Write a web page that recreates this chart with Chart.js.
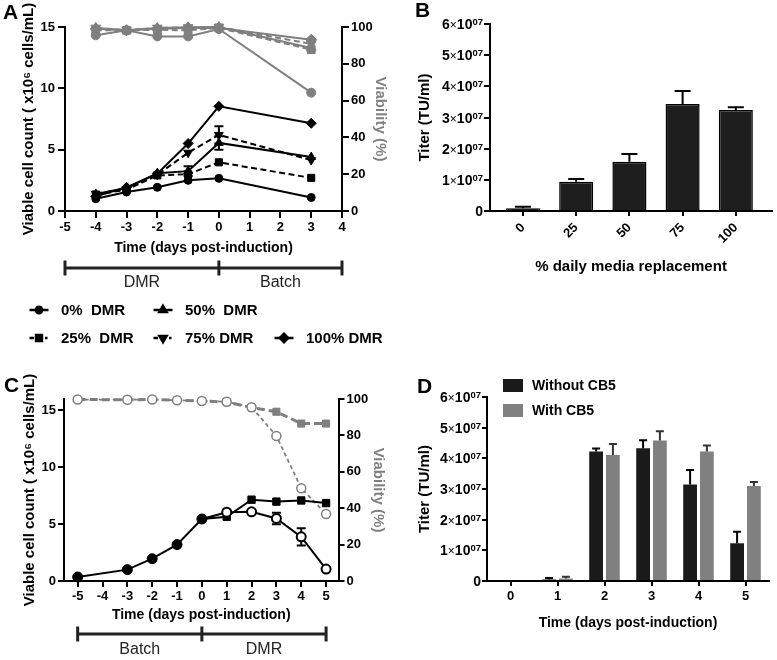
<!DOCTYPE html>
<html>
<head>
<meta charset="utf-8">
<title>Cell growth, viability and titer</title>
<script src="https://cdn.jsdelivr.net/npm/chart.js@4.4.1/dist/chart.umd.min.js"></script>
<style>
  html, body { margin: 0; padding: 0; background: #fff; }
  #page { position: relative; width: 777px; height: 660px; overflow: hidden; }
  #page canvas { position: absolute; }
</style>
</head>
<body>
<div id="page">
  <canvas id="cA" width="400" height="350" style="left:0;top:0"></canvas>
  <canvas id="cB" width="377" height="300" style="left:400px;top:0"></canvas>
  <canvas id="cC" width="400" height="310" style="left:0;top:350px"></canvas>
  <canvas id="cD" width="377" height="310" style="left:400px;top:350px"></canvas>
</div>
<script>
// ---- data: panel A (DMR then batch) ----
const daysA = [-4, -3, -2, -1, 0, 3];
const dayTicksA = [-5, -4, -3, -2, -1, 0, 1, 2, 3, 4];
const countTicksA = [0, 5, 10, 15];
const viabTicks = [0, 20, 40, 60, 80, 100];
const countA0 = [1.0, 1.55, 1.93, 2.5, 2.66, 1.1];
const countA25 = [1.33, 1.74, 2.9, 3.0, 3.97, 2.7];
const countA50 = [1.39, 1.87, 3.07, 3.25, 5.55, 4.4];
const countA75 = [1.41, 1.79, 2.96, 4.75, 6.2, 4.15];
const countA100 = [1.2, 1.93, 3.04, 5.5, 8.53, 7.15];
const errA50 = [0, 0, 0, 0.4, 0.55, 0];
const errA75 = [0, 0, 0, 0, 0.7, 0];
const viabA0 = [95.5, 98.2, 94.9, 94.9, 98.9, 64.3];
const viabA25 = [98.2, 98.2, 98.5, 98.2, 99.5, 87.7];
const viabA50 = [99.5, 98.2, 99.5, 99.8, 100, 88.6];
const viabA75 = [99.5, 98.2, 99.5, 99.8, 100, 90.8];
const viabA100 = [99, 98.2, 99, 99.5, 99.5, 93.1];
const phasesA = ['DMR', 'Batch'];
const phaseBoundsA = [-5, 0, 4];

// ---- data: panel B ----
const mediaLabels = ['0', '25', '50', '75', '100'];
const titerB = [0.9e6, 9.4e6, 1.58e7, 3.43e7, 3.24e7];
const errB = [0.5e6, 0.9e6, 0.25e7, 0.42e7, 0.09e7];
const titerTicks = [0, 1e7, 2e7, 3e7, 4e7, 5e7, 6e7];

// ---- data: panel C (batch then DMR) ----
const daysC = [-5, -3, -2, -1, 0, 1, 2, 3, 4, 5];
const daysCBatch = [0, 1, 2, 3, 4, 5];
const dayTicksC = [-5, -4, -3, -2, -1, 0, 1, 2, 3, 4, 5];
const countTicksC = [0, 5, 10, 15];
const countCDmr = [0.35, 1.0, 1.96, 3.2, 5.45, 5.65, 7.15, 6.98, 7.08, 6.85];
const countCBatch = [5.45, 6.05, 6.08, 5.5, 3.88, 1.05];
const errCBatch = [0, 0, 0.15, 0.5, 0.75, 0];
const viabCDmr = [99.7, 99.6, 99.7, 99.3, 98.9, 98.3, 95.3, 93.0, 86.5, 86.5];
const viabCBatch = [99.7, 99.6, 99.7, 99.3, 98.9, 98.5, 95.5, 79.7, 51.0, 36.8];
const phasesC = ['Batch', 'DMR'];
const phaseBoundsC = [-5, 0, 5];

// ---- data: panel D ----
const daysD = ['0', '1', '2', '3', '4', '5'];
const titerNoCB5 = [0, 0.05e7, 4.22e7, 4.33e7, 3.15e7, 1.23e7];
const errNoCB5 = [0, 0.05e7, 0.1e7, 0.26e7, 0.47e7, 0.38e7];
const titerCB5 = [0, 0.08e7, 4.11e7, 4.58e7, 4.22e7, 3.1e7];
const errCB5 = [0, 0.06e7, 0.36e7, 0.3e7, 0.2e7, 0.13e7];

const FONT = "'Liberation Sans', Arial, Helvetica, sans-serif";
const BLACK = '#000';
const GRAY = '#7f7f7f';

Chart.defaults.font.family = FONT;
Chart.defaults.color = BLACK;
Chart.defaults.animation = false;
Chart.defaults.plugins.legend.display = false;
Chart.defaults.plugins.tooltip.enabled = false;

function pts(xs, ys) {
  return xs.map((x, i) => ({ x: x, y: ys[i] }));
}

// fixed axis box so the plot areas land where the figure has them
function pinBox(size) {
  return s => {
    if (s.isHorizontal()) s.height = size; else s.width = size;
    s.paddingLeft = s.paddingRight = s.paddingTop = s.paddingBottom = 0;
  };
}

function setTicks(values) {
  return s => { s.ticks = values.map(v => ({ value: v })); };
}

function axisLook(tickLength) {
  return {
    grid: { display: true, drawOnChartArea: false, drawTicks: true, tickLength: tickLength, color: BLACK, lineWidth: 2 },
    border: { display: true, color: BLACK, width: 2 }
  };
}

function tickFont(pad) {
  return { font: { size: 13, weight: 'bold' }, color: BLACK, padding: pad };
}

function lineSet(label, xs, ys, extra) {
  return Object.assign({
    label: label,
    data: pts(xs, ys),
    borderColor: BLACK,
    backgroundColor: BLACK,
    pointBackgroundColor: BLACK,
    pointBorderColor: BLACK,
    borderWidth: 2,
    pointBorderWidth: 1,
    pointRadius: 4,
    tension: 0,
    fill: false,
    clip: false
  }, extra);
}

function grayed(extra) {
  return Object.assign({ borderColor: GRAY, backgroundColor: GRAY, pointBackgroundColor: GRAY, pointBorderColor: GRAY, yAxisID: 'y2' }, extra);
}

// ---- error bars ----
function drawErrors(chart, bars) {
  const ctx = chart.ctx;
  chart.data.datasets.forEach((ds, di) => {
    if (!ds.errors) return;
    const meta = chart.getDatasetMeta(di);
    if ((meta.type === 'bar') !== bars) return;
    const ys = chart.scales[meta.yAxisID];
    ctx.save();
    ctx.strokeStyle = ds.errorColor || BLACK;
    ctx.lineWidth = 2;
    meta.data.forEach((el, i) => {
      const e = ds.errors[i];
      if (!e) return;
      const raw = ds.data[i];
      const v = typeof raw === 'object' ? raw.y : raw;
      const top = ys.getPixelForValue(v + e);
      const bot = ys.getPixelForValue(bars ? v : v - e);
      const w = ds.errorCap || 4.5;
      ctx.beginPath();
      ctx.moveTo(el.x, top); ctx.lineTo(el.x, bot);
      ctx.moveTo(el.x - w, top); ctx.lineTo(el.x + w, top);
      if (!bars) { ctx.moveTo(el.x - w, bot); ctx.lineTo(el.x + w, bot); }
      ctx.stroke();
    });
    ctx.restore();
  });
}

const errorBarPlugin = {
  id: 'errorBars',
  beforeDatasetsDraw(chart) { drawErrors(chart, false); },
  afterDatasetsDraw(chart) { drawErrors(chart, true); }
};

// ---- extras: panel letters, phase brackets, legends, x10^07 ticks ----
function marker(ctx, style, rot, r, x, y) {
  if (Chart.helpers && Chart.helpers.drawPoint) {
    Chart.helpers.drawPoint(ctx, { pointStyle: style, rotation: rot, radius: r, borderWidth: 1 }, x, y);
    return;
  }
  ctx.beginPath();
  ctx.arc(x, y, r, 0, Math.PI * 2);
  ctx.fill();
}

function drawBracket(chart, b) {
  const ctx = chart.ctx;
  const xs = chart.scales.x;
  const px = b.bounds.map(v => xs.getPixelForValue(v));
  ctx.save();
  ctx.strokeStyle = '#222';
  ctx.lineWidth = 3;
  ctx.beginPath();
  ctx.moveTo(px[0], b.y); ctx.lineTo(px[px.length - 1], b.y);
  px.forEach(p => { ctx.moveTo(p, b.y - 7.5); ctx.lineTo(p, b.y + 7.5); });
  ctx.stroke();
  ctx.fillStyle = '#222';
  ctx.font = '16px ' + FONT;
  ctx.textAlign = 'center';
  ctx.textBaseline = 'middle';
  b.phases.forEach((t, i) => ctx.fillText(t, (px[i] + px[i + 1]) / 2, b.labelY));
  ctx.restore();
}

function drawLineLegend(chart, slots) {
  const ctx = chart.ctx;
  ctx.save();
  slots.forEach((slot, i) => {
    const ds = chart.data.datasets[i];
    const x = slot[0], y = slot[1];
    ctx.strokeStyle = BLACK;
    ctx.fillStyle = BLACK;
    ctx.lineWidth = 2.5;
    ctx.beginPath();
    if (ds.borderDash) {
      // dashed series: "-■·"
      ctx.moveTo(x - 9.5, y); ctx.lineTo(x - 5, y);
      ctx.moveTo(x + 6, y); ctx.lineTo(x + 8.5, y);
    } else {
      ctx.moveTo(x - 9.5, y); ctx.lineTo(x + 9.5, y);
    }
    ctx.stroke();
    marker(ctx, ds.pointStyle, ds.pointRotation || 0, ds.pointRadius - 0.8, x, y);
    ctx.font = 'bold 15px ' + FONT;
    ctx.textAlign = 'left';
    ctx.textBaseline = 'middle';
    ctx.fillText(ds.label, x + 22, y + 0.5);
  });
  ctx.restore();
}

function drawBoxLegend(chart, lg) {
  const ctx = chart.ctx;
  ctx.save();
  chart.data.datasets.forEach((ds, i) => {
    const y = lg.y[i];
    ctx.fillStyle = ds.backgroundColor;
    ctx.fillRect(lg.x, y - 6.5, 20, 13);
    ctx.fillStyle = BLACK;
    ctx.font = 'bold 14px ' + FONT;
    ctx.textAlign = 'left';
    ctx.textBaseline = 'middle';
    ctx.fillText(ds.label, lg.x + 29, y + 0.5);
  });
  ctx.restore();
}

function drawSciTicks(chart, scale, gap) {
  const ctx = chart.ctx;
  const xr = scale.right - scale.options.grid.tickLength - gap;
  ctx.save();
  ctx.fillStyle = BLACK;
  ctx.textBaseline = 'alphabetic';
  scale.ticks.forEach(t => {
    const base = scale.getPixelForValue(t.value) + 5;
    if (t.value === 0) {
      ctx.font = 'bold 14px ' + FONT;
      ctx.textAlign = 'right';
      ctx.fillText('0', xr, base);
      return;
    }
    const exp = Math.floor(Math.log10(t.value) + 1e-9);
    const mant = Math.round(t.value / Math.pow(10, exp));
    const parts = [[String(mant), 'bold 14px', 0], ['\u00d7', '12px', 0], ['10', 'bold 14px', 0], [String(exp).padStart(2, '0'), 'bold 9.5px', -4]];
    let w = 0;
    parts.forEach(p => { ctx.font = p[1] + ' ' + FONT; p.push(ctx.measureText(p[0]).width); w += p[3]; });
    let x = xr - w;
    ctx.textAlign = 'left';
    parts.forEach(p => { ctx.font = p[1] + ' ' + FONT; ctx.fillText(p[0], x, base + p[2]); x += p[3]; });
  });
  ctx.restore();
}

const panelExtras = {
  cA: {
    letter: ['A', 3, 19],
    bracket: { y: 268, labelY: 283, phases: phasesA, bounds: phaseBoundsA },
    lineLegend: [[39, 310], [39, 338], [163, 310], [163, 338], [284, 338]]
  },
  cB: { letter: ['B', 15, 17], sci: ['y', 1] },
  cC: {
    letter: ['C', 4, 42],
    bracket: { y: 284, labelY: 300, phases: phasesC, bounds: phaseBoundsC }
  },
  cD: { letter: ['D', 17, 43], sci: ['y', 1], boxLegend: { x: 103, y: [35.5, 60.5] } }
};

const extrasPlugin = {
  id: 'extras',
  afterDraw(chart) {
    const o = panelExtras[chart.canvas.id];
    if (!o) return;
    const ctx = chart.ctx;
    if (o.letter) {
      ctx.save();
      ctx.fillStyle = BLACK;
      ctx.font = 'bold 21px ' + FONT;
      ctx.textAlign = 'left';
      ctx.textBaseline = 'alphabetic';
      ctx.fillText(o.letter[0], o.letter[1], o.letter[2]);
      ctx.restore();
    }
    if (o.bracket) drawBracket(chart, o.bracket);
    if (o.lineLegend) drawLineLegend(chart, o.lineLegend);
    if (o.boxLegend) drawBoxLegend(chart, o.boxLegend);
    if (o.sci) drawSciTicks(chart, chart.scales[o.sci[0]], o.sci[1]);
  }
};

Chart.register(errorBarPlugin, extrasPlugin);

const yTitleFont = { size: 15, weight: 'bold' };
const xTitleFont = { size: 14, weight: 'bold' };

// ---- panel A ----
new Chart(document.getElementById('cA'), {
  type: 'line',
  data: {
    datasets: [
      lineSet('0%  DMR', daysA, countA0, { pointStyle: 'circle', pointRadius: 4 }),
      lineSet('25%  DMR', daysA, countA25, { pointStyle: 'rect', pointRadius: 5, borderDash: [6, 3.5] }),
      lineSet('50%  DMR', daysA, countA50, { pointStyle: 'triangle', pointRadius: 5, errors: errA50 }),
      lineSet('75% DMR', daysA, countA75, { pointStyle: 'triangle', pointRotation: 180, pointRadius: 5, borderDash: [6, 3.5], errors: errA75 }),
      lineSet('100% DMR', daysA, countA100, { pointStyle: 'rectRot', pointRadius: 5 }),
      lineSet('0% viability', daysA, viabA0, grayed({ pointStyle: 'circle', pointRadius: 4.5 })),
      lineSet('25% viability', daysA, viabA25, grayed({ pointStyle: 'rect', pointRadius: 5.5, borderDash: [6, 3.5] })),
      lineSet('50% viability', daysA, viabA50, grayed({ pointStyle: 'triangle', pointRadius: 5.5 })),
      lineSet('75% viability', daysA, viabA75, grayed({ pointStyle: 'triangle', pointRotation: 180, pointRadius: 5.5, borderDash: [6, 3.5] })),
      lineSet('100% viability', daysA, viabA100, grayed({ pointStyle: 'rectRot', pointRadius: 5.5 }))
    ]
  },
  options: {
    responsive: false,
    layout: { padding: { top: 27, left: 0, right: 0, bottom: 89 } },
    scales: {
      x: Object.assign({
        type: 'linear', min: -5, max: 4,
        afterBuildTicks: setTicks(dayTicksA), afterFit: pinBox(50),
        ticks: tickFont(2),
        title: { display: true, text: 'Time (days post-induction)', font: xTitleFont, color: BLACK, padding: { top: 0, bottom: 4.6 } }
      }, axisLook(7)),
      y: Object.assign({
        position: 'left', min: 0, max: 15,
        afterBuildTicks: setTicks(countTicksA), afterFit: pinBox(65),
        ticks: tickFont(3),
        title: { display: true, text: 'Viable cell count ( x10\u2076 cells/mL)', font: yTitleFont, color: BLACK, padding: { top: 20, bottom: 0 } }
      }, axisLook(7)),
      y2: Object.assign({
        position: 'right', min: 0, max: 100,
        afterBuildTicks: setTicks(viabTicks), afterFit: pinBox(58),
        ticks: tickFont(2),
        title: { display: true, text: 'Viability (%)', font: yTitleFont, color: GRAY, padding: { top: 10.6, bottom: 0 } }
      }, axisLook(7))
    }
  }
});

// ---- panel B ----
new Chart(document.getElementById('cB'), {
  type: 'bar',
  data: {
    datasets: [{
      label: 'Titer',
      data: pts(mediaLabels.map((_, i) => i), titerB),
      backgroundColor: '#1e1e1e',
      borderColor: BLACK,
      borderWidth: 1.5,
      barPercentage: 0.64,
      categoryPercentage: 1,
      errors: errB,
      errorCap: 8
    }]
  },
  options: {
    responsive: false,
    layout: { padding: { top: 24, left: 0, right: 5, bottom: 0 } },
    scales: {
      x: Object.assign({
        type: 'linear', min: -0.62, max: 4.68, offset: false,
        afterBuildTicks: setTicks(mediaLabels.map((_, i) => i)), afterFit: pinBox(89),
        ticks: Object.assign(tickFont(4), { minRotation: 45, maxRotation: 45, callback: v => mediaLabels[v] }),
        title: { display: true, text: '% daily media replacement', font: { size: 15, weight: 'bold' }, color: BLACK, padding: { top: 0, bottom: 24 } }
      }, axisLook(5), { grid: { display: true, drawOnChartArea: false, drawTicks: true, tickLength: 5, color: BLACK, lineWidth: 2, offset: false } }),
      y: Object.assign({
        min: 0, max: 6e7,
        afterBuildTicks: setTicks(titerTicks), afterFit: pinBox(90),
        ticks: { display: false },
        title: { display: true, text: 'Titer (TU/ml)', font: yTitleFont, color: BLACK, padding: { top: 16, bottom: 0 } }
      }, axisLook(6))
    }
  }
});

// ---- panel C ----
new Chart(document.getElementById('cC'), {
  type: 'line',
  data: {
    datasets: [
      lineSet('Batch count', daysCBatch, countCBatch, {
        pointStyle: 'circle', pointRadius: daysCBatch.map((d, i) => i === 0 ? 0 : 4.5),
        pointBackgroundColor: '#fff', pointBorderWidth: 2, errors: errCBatch
      }),
      lineSet('DMR count', daysC, countCDmr, {
        pointStyle: daysC.map(d => d <= 0 ? 'circle' : 'rect'),
        pointRadius: daysC.map(d => d <= 0 ? 5 : 5.2)
      }),
      lineSet('Batch viability', daysC, viabCBatch, grayed({
        pointStyle: 'circle', pointRadius: 4.5, pointBackgroundColor: '#fff', pointBorderWidth: 1.5,
        borderWidth: 1.8, borderDash: [4, 3]
      })),
      lineSet('DMR viability', daysC, viabCDmr, grayed({
        pointStyle: 'rect', pointRadius: daysC.map(d => d <= 0 ? 0 : 5),
        borderWidth: 3, borderDash: [8, 4]
      }))
    ]
  },
  options: {
    responsive: false,
    layout: { padding: { top: 49, left: 0, right: 0, bottom: 0 } },
    scales: {
      x: Object.assign({
        type: 'linear', min: -5.55, max: 5.5,
        afterBuildTicks: setTicks(dayTicksC), afterFit: pinBox(79),
        ticks: tickFont(2),
        title: { display: true, text: 'Time (days post-induction)', font: xTitleFont, color: BLACK, padding: { top: 0, bottom: 36.6 } }
      }, axisLook(6)),
      y: Object.assign({
        position: 'left', min: 0, max: 16,
        afterBuildTicks: setTicks(countTicksC), afterFit: pinBox(64),
        ticks: tickFont(2),
        title: { display: true, text: 'Viable cell count ( x10\u2076 cells/mL)', font: yTitleFont, color: BLACK, padding: { top: 21, bottom: 0 } }
      }, axisLook(6)),
      y2: Object.assign({
        position: 'right', min: 0, max: 100,
        afterBuildTicks: setTicks(viabTicks), afterFit: pinBox(61.5),
        ticks: tickFont(2),
        title: { display: true, text: 'Viability (%)', font: yTitleFont, color: GRAY, padding: { top: 13, bottom: 0 } }
      }, axisLook(6))
    }
  }
});

// ---- panel D ----
new Chart(document.getElementById('cD'), {
  type: 'bar',
  data: {
    labels: daysD,
    datasets: [
      { label: 'Without CB5', data: titerNoCB5, backgroundColor: '#1a1a1a', borderWidth: 0, errors: errNoCB5, errorCap: 4,
        barPercentage: 0.82, categoryPercentage: 0.715 },
      { label: 'With CB5', data: titerCB5, backgroundColor: '#808080', borderWidth: 0, errors: errCB5, errorCap: 4, errorColor: '#333',
        barPercentage: 0.82, categoryPercentage: 0.715 }
    ]
  },
  options: {
    responsive: false,
    layout: { padding: { top: 47, left: 0, right: 8, bottom: 0 } },
    scales: {
      x: Object.assign({
        type: 'category', offset: true, afterFit: pinBox(79),
        ticks: tickFont(3),
        title: { display: true, text: 'Time (days post-induction)', font: xTitleFont, color: BLACK, padding: { top: 0, bottom: 28.6 } }
      }, axisLook(5), { grid: { display: true, drawOnChartArea: false, drawTicks: true, tickLength: 5, color: BLACK, lineWidth: 2, offset: false } }),
      y: Object.assign({
        min: 0, max: 6e7,
        afterBuildTicks: setTicks(titerTicks), afterFit: pinBox(87),
        ticks: { display: false },
        title: { display: true, text: 'Titer (TU/ml)', font: yTitleFont, color: BLACK, padding: { top: 16, bottom: 0 } }
      }, axisLook(5))
    }
  }
});
</script>
</body>
</html>
